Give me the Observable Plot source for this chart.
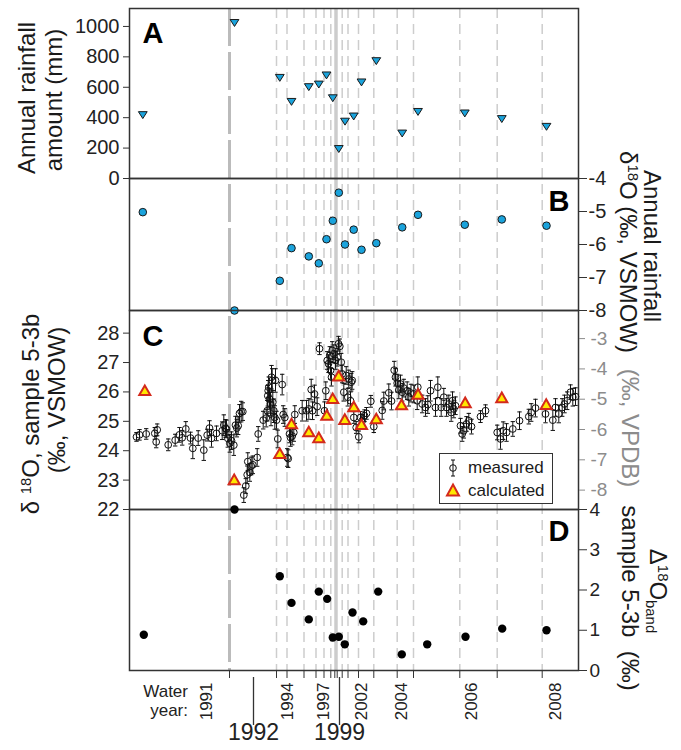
<!DOCTYPE html>
<html><head><meta charset="utf-8">
<script src="https://cdn.jsdelivr.net/npm/d3@7"></script>
<script src="https://cdn.jsdelivr.net/npm/@observablehq/plot@0.6"></script>
<style>
body{margin:0;background:#fff;font-family:"Liberation Sans",Arial,Helvetica,sans-serif;}
#chart{position:relative;width:681px;height:750px;overflow:hidden;background:#fff;}
.t{position:absolute;white-space:nowrap;color:#1a1a1a;line-height:1;}
.sup{font-size:0.62em;vertical-align:0.55em;line-height:0;}
.sub{font-size:0.62em;vertical-align:-0.3em;line-height:0;}
#legend{position:absolute;left:439px;top:453px;width:114px;height:51px;border:1.5px solid #333;background:#fff;box-sizing:border-box;font-size:17px;color:#1a1a1a;}
#legend .row{position:absolute;left:4px;display:flex;align-items:center;white-space:nowrap;}
</style></head><body><div id="chart"></div>
<script>
// ---------- data (x = distance along sample 5-3b, arbitrary units) ----------
const boundaries = [100, 147, 157.5, 174.5, 186.5, 194.5, 201.3, 205.3, 207.7, 212.7, 218.5, 229, 244.3, 267.7, 284, 330.3, 367.7, 412.7];
const dashedBoundaries = [147, 157.5, 174.5, 186.5, 194.5, 201.3, 212.7, 218.5, 229, 244.3, 267.7, 284, 330.3, 367.7, 412.7];
const boundary1992 = 100;
const boundary1999 = 206.5;
const yearLabels = ["1991", "1994", "1997", "2002", "2004", "2006", "2008"];
const yearLabelPos = [82.7, 163.7, 199.3, 237.7, 277.7, 347.7, 431];
const majorYears = ["1992", "1999"];
const majorYearPos = [124, 210];

// A: annual rainfall amount (mm)
const rainDist = [13.3, 105, 150.3, 162, 179.3, 189.3, 197, 203.3, 209.3, 215.5, 224.2, 232, 246.8, 272.7, 288.5, 335.3, 372.3, 417];
const rainAmount = [419, 1025, 664, 506, 603, 620, 680, 530, 196, 376, 410, 634, 774, 298, 440, 430, 393, 342];
// B: annual rainfall d18O (permil VSMOW)
const rainD18O = [-5.02, -8.0, -7.10, -6.11, -6.36, -6.57, -5.84, -5.28, -4.43, -6.0, -5.55, -6.16, -5.96, -5.48, -5.10, -5.40, -5.24, -5.43];
// C: calculated calcite d18O (permil VSMOW)
const calcDist = [15.3, 104.7, 150.3, 162, 179.3, 189.3, 197.3, 203.2, 209.2, 215.3, 224.3, 232, 246.8, 272, 288.6, 335.7, 372.3, 416.7];
const calcD18O = [26.0, 22.97, 23.86, 24.87, 24.60, 24.40, 25.16, 25.73, 26.50, 25.02, 25.45, 24.85, 25.04, 25.52, 25.88, 25.59, 25.76, 25.53];
// C: measured d18O, sample 5-3b
const measDist = [
 7.0, 10.0, 16.7, 25.3, 26.7, 27.7, 38.7, 45.7, 50.0, 52.7,
 56.3, 61.0, 63.3, 68.7, 74.3, 77.7, 80.0, 82.0, 87.0, 92.7,
 94.3, 96.0, 97.0, 98.3, 100.3, 102.0, 104.3, 106.0, 107.3, 108.7,
 110.0, 111.7, 113.3, 114.3, 116.3, 117.7, 118.3, 120.3, 121.7, 123.3,
 127.7, 128.7, 133.7, 136.7, 137.7, 138.3, 138.7, 139.3, 140.0, 141.0,
 141.5, 142.0, 142.7, 143.3, 144.3, 145.3, 146.0, 147.0, 148.3, 152.7,
 153.7, 155.3, 157.7, 158.7, 160.0, 161.0, 162.7, 164.3, 165.3, 172.7,
 177.0, 179.3, 181.7, 183.0, 185.0, 187.7, 190.0, 195.0, 196.3, 197.7,
 199.0, 200.3, 201.0, 202.0, 202.7, 204.3, 206.0, 207.7, 209.0, 210.3,
 211.7, 212.7, 214.3, 216.7, 218.3, 219.3, 221.0, 221.7, 222.7, 224.3,
 226.7, 229.3, 231.0, 232.7, 235.0, 237.0, 241.3, 244.3, 252.7, 254.3,
 259.3, 262.0, 264.7, 266.0, 267.7, 269.3, 271.0, 272.7, 274.3, 277.7,
 279.3, 281.5, 284.3, 287.7, 288.3, 292.7, 296.0, 298.3, 301.0, 306.0,
 308.3, 311.7, 314.3, 317.0, 319.3, 321.7, 323.0, 324.3, 326.0, 331.0,
 332.7, 334.3, 337.0, 339.3, 342.0, 351.0, 356.0, 367.7, 371.0, 373.7,
 377.0, 383.3, 390.0, 399.3, 401.7, 406.0, 416.0, 423.3, 426.0, 429.3,
 432.7, 435.0, 437.7, 441.0, 443.3, 446.0];
const measD18O = [
 24.47, 24.54, 24.57, 24.59, 24.30, 24.71, 24.20, 24.36, 24.54, 24.44,
 24.74, 24.43, 24.08, 24.43, 24.02, 24.53, 24.77, 24.42, 24.59, 24.68,
 24.87, 24.76, 24.74, 24.42, 24.25, 24.34, 24.19, 24.87, 24.77, 24.85,
 25.27, 25.33, 25.33, 22.49, 22.80, 23.18, 23.63, 23.26, 23.48, 23.52,
 23.77, 24.57, 25.04, 25.11, 25.36, 25.87, 26.04, 26.16, 25.76, 25.59,
 25.25, 26.50, 26.39, 25.65, 25.36, 25.13, 26.39, 25.04, 24.40, 26.25,
 25.23, 25.13, 23.77, 23.73, 24.57, 24.45, 24.50, 24.62, 25.23, 25.36,
 25.36, 25.42, 26.08, 25.36, 25.93, 25.50, 27.47, 25.36, 26.04, 27.07,
 26.96, 27.24, 26.73, 26.50, 27.41, 27.30, 27.07, 27.18, 27.64, 27.55,
 27.01, 26.61, 25.99, 26.56, 25.82, 26.44, 25.70, 26.33, 26.39, 25.13,
 24.79, 24.47, 25.13, 25.02, 25.19, 25.27, 25.68, 24.82, 25.37, 25.69,
 25.97, 25.69, 26.74, 26.50, 26.30, 26.07, 26.27, 25.99, 26.13, 26.04,
 25.82, 25.96, 25.93, 25.70, 26.16, 25.59, 25.47, 25.57, 26.04, 25.47,
 26.16, 25.47, 25.82, 25.47, 25.59, 25.30, 25.70, 25.42, 25.53, 24.85,
 24.57, 24.68, 24.91, 25.02, 24.82, 25.16, 25.36, 24.62, 24.40, 24.68,
 24.62, 24.74, 25.02, 25.16, 25.30, 25.45, 25.25, 25.04, 25.47, 25.25,
 25.47, 25.59, 25.70, 25.99, 25.82, 25.84];
const measErr = [
 0.15, 0.18, 0.18, 0.2, 0.2, 0.2, 0.2, 0.2, 0.25, 0.25,
 0.25, 0.2, 0.35, 0.25, 0.35, 0.2, 0.25, 0.3, 0.25, 0.3,
 0.35, 0.3, 0.3, 0.3, 0.3, 0.3, 0.35, 0.3, 0.3, 0.3,
 0.3, 0.35, 0.3, 0.25, 0.25, 0.3, 0.3, 0.3, 0.3, 0.3,
 0.3, 0.25, 0.3, 0.3, 0.35, 0.35, 0.35, 0.35, 0.35, 0.4,
 0.4, 0.4, 0.4, 0.4, 0.4, 0.4, 0.4, 0.3, 0.3, 0.35,
 0.3, 0.3, 0.3, 0.3, 0.3, 0.3, 0.3, 0.3, 0.3, 0.35,
 0.35, 0.35, 0.35, 0.3, 0.3, 0.3, 0.2, 0.3, 0.3, 0.3,
 0.3, 0.3, 0.3, 0.3, 0.3, 0.3, 0.3, 0.3, 0.25, 0.25,
 0.3, 0.3, 0.3, 0.3, 0.3, 0.3, 0.3, 0.3, 0.3, 0.2,
 0.2, 0.2, 0.2, 0.2, 0.2, 0.2, 0.2, 0.2, 0.3, 0.3,
 0.3, 0.3, 0.3, 0.3, 0.3, 0.3, 0.3, 0.3, 0.3, 0.3,
 0.3, 0.3, 0.3, 0.3, 0.35, 0.3, 0.3, 0.3, 0.35, 0.3,
 0.35, 0.3, 0.3, 0.3, 0.3, 0.3, 0.3, 0.3, 0.3, 0.25,
 0.25, 0.25, 0.25, 0.25, 0.25, 0.2, 0.2, 0.25, 0.35, 0.3,
 0.3, 0.25, 0.3, 0.25, 0.3, 0.3, 0.3, 0.35, 0.3, 0.3,
 0.3, 0.3, 0.3, 0.25, 0.3, 0.3];
// D: Delta18O band
const bandDist = [14.3, 105, 150.3, 162, 179.3, 189.3, 197.7, 203.3, 209.3, 215.3, 223, 233.7, 248.7, 272.3, 297.7, 336, 372.7, 417];
const bandDelta = [0.89, 4.0, 2.34, 1.68, 1.27, 1.96, 1.78, 0.82, 0.84, 0.65, 1.44, 1.22, 1.96, 0.40, 0.65, 0.84, 1.04, 1.00];
// axis ticks
const rainTicks = [0, 200, 400, 600, 800, 1000];
const rainIsoTicks = [-4, -5, -6, -7, -8];
const vsmowTicks = [22, 23, 24, 25, 26, 27, 28];
const vpdbTicks = [-3, -4, -5, -6, -7, -8];
const bandTicks = [0, 1, 2, 3, 4];

// ---------- helpers ----------
const FF = '"Liberation Sans", Arial, Helvetica, sans-serif';
const W = 681, ML = 129, MR = 103, XD = [0, 449];
const chart = document.getElementById("chart");
const plain = d => String(d);
const toVSMOW = v => (v + 29.98) / 0.97002;
const toVPDB = v => 0.97002 * v - 29.98;
const rain = rainDist.map((x, i) => ({x, v: rainAmount[i]}));
const rainIso = rainDist.map((x, i) => ({x, v: rainD18O[i]}));
const calc = calcDist.map((x, i) => ({x, v: calcD18O[i]}));
const meas = measDist.map((x, i) => ({x, v: measD18O[i], e: measErr[i]}));
const band = bandDist.map((x, i) => ({x, v: bandDelta[i]}));

const downTriangle = {draw(ctx, size) { const r = Math.sqrt(size / Math.PI);
  ctx.moveTo(-1.1 * r, -0.78 * r); ctx.lineTo(1.1 * r, -0.78 * r); ctx.lineTo(0, 0.95 * r); ctx.closePath(); }};
const capSymbol = {draw(ctx, size) { const r = Math.sqrt(size / Math.PI);
  ctx.moveTo(-r, 0); ctx.lineTo(r, 0); }};

const baseStyle = {background: "none", overflow: "visible", fontFamily: FF, fontSize: "20px", color: "#222"};
function place(svg, top) { svg.style.position = "absolute"; svg.style.left = "0px"; svg.style.top = top + "px"; chart.append(svg); }
const frame = Plot.frame({stroke: "#333", strokeWidth: 1.5});
function letter(t, anchor, dx, dy) {
  return Plot.text([t], {text: d => d, frameAnchor: anchor, dx, dy, fontSize: 29, fontWeight: "bold",
    textAnchor: anchor.endsWith("left") ? "start" : "end", lineAnchor: "top", fill: "#000"});
}

// ---------- base: year boundaries and x axis ----------
place(Plot.plot({
  width: W, height: 750, marginTop: 8, marginBottom: 80, marginLeft: ML, marginRight: MR,
  x: {domain: XD}, style: baseStyle,
  marks: [
    Plot.ruleX(dashedBoundaries, {stroke: "#cdcdcd", strokeWidth: 1.5, strokeDasharray: "10,6"}),
    Plot.ruleX([boundary1992], {stroke: "#bbbbbb", strokeWidth: 3, strokeDasharray: "38,6"}),
    Plot.ruleX([boundary1999], {stroke: "#cccccc", strokeWidth: 3.5}),
    Plot.axisX({ticks: boundaries, tickSize: 8, tickFormat: () => "", stroke: "#333", label: null}),
    Plot.text(yearLabels, {x: (d, i) => yearLabelPos[i], text: d => d, frameAnchor: "bottom", rotate: -90,
      textAnchor: "end", dy: 12, fontSize: 17, fill: "#222"}),
    Plot.text(majorYears, {x: (d, i) => majorYearPos[i], text: d => d, frameAnchor: "bottom", dy: 69,
      fontSize: 23, fill: "#222"})
  ]
}), 0);

// long marker lines for 1992 and 1999
place(Plot.plot({
  width: W, height: 80, marginTop: 7, marginBottom: 25, marginLeft: ML, marginRight: MR,
  x: {domain: XD, axis: null}, style: baseStyle,
  marks: [Plot.ruleX(majorYearPos, {stroke: "#333", strokeWidth: 1.3})]
}), 670);

// ---------- A ----------
place(Plot.plot({
  width: W, height: 178, marginTop: 8, marginBottom: 0, marginLeft: ML, marginRight: MR,
  x: {domain: XD, axis: null}, y: {domain: [0, 1118]}, style: baseStyle,
  marks: [
    frame,
    Plot.axisY({ticks: rainTicks, tickSize: 6, tickPadding: 4, tickFormat: plain, label: null, fontSize: 20, stroke: "#333"}),
    Plot.dot(rain, {x: "x", y: "v", symbol: downTriangle, r: 4, fill: "#1aa3dc", stroke: "#1a1a1a", strokeWidth: 1}),
    letter("A", "top-left", 13, 14)
  ]
}), 0);

// ---------- B ----------
place(Plot.plot({
  width: W, height: 132, marginTop: 0, marginBottom: 0, marginLeft: ML, marginRight: MR,
  x: {domain: XD, axis: null}, y: {domain: [-8, -4]}, style: baseStyle,
  marks: [
    frame,
    Plot.axisY({anchor: "right", ticks: rainIsoTicks, tickSize: 8, tickPadding: 2, tickFormat: plain, label: null, fontSize: 20, stroke: "#333"}),
    Plot.dot(rainIso, {x: "x", y: "v", r: 3.8, fill: "#1aa3dc", stroke: "#1a1a1a", strokeWidth: 1}),
    letter("B", "top-right", -9, 12)
  ]
}), 178);

// ---------- C ----------
place(Plot.plot({
  width: W, height: 199, marginTop: 0, marginBottom: 0, marginLeft: ML, marginRight: MR,
  x: {domain: XD, axis: null}, y: {domain: [22, 28.77]}, style: baseStyle,
  marks: [
    frame,
    Plot.axisY({ticks: vsmowTicks, tickSize: 6, tickPadding: 4, tickFormat: plain, label: null, fontSize: 20, stroke: "#333"}),
    Plot.axisY({anchor: "right", ticks: vpdbTicks.map(toVSMOW), tickFormat: d => String(Math.round(toVPDB(d))),
      tickSize: 6, tickPadding: 6, label: null, fontSize: 19, color: "#8c8c8c"}),
    Plot.ruleX(meas, {x: "x", y1: d => d.v - d.e, y2: d => d.v + d.e, stroke: "#111", strokeWidth: 1}),
    Plot.dot(meas, {x: "x", y: d => d.v - d.e, symbol: capSymbol, r: 2.2, stroke: "#111", strokeWidth: 1}),
    Plot.dot(meas, {x: "x", y: d => d.v + d.e, symbol: capSymbol, r: 2.2, stroke: "#111", strokeWidth: 1}),
    Plot.dot(meas, {x: "x", y: "v", r: 3.4, fill: "none", stroke: "#111", strokeWidth: 1}),
    Plot.dot(calc, {x: "x", y: "v", symbol: "triangle", r: 4.1, fill: "#ffe800", stroke: "#d42a1c", strokeWidth: 2}),
    letter("C", "top-left", 13, 15)
  ]
}), 310);

// ---------- D ----------
place(Plot.plot({
  width: W, height: 161, marginTop: 0, marginBottom: 0, marginLeft: ML, marginRight: MR,
  x: {domain: XD, axis: null}, y: {domain: [0, 4]}, style: baseStyle,
  marks: [
    frame,
    Plot.axisY({anchor: "right", ticks: bandTicks, tickSize: 8, tickPadding: 3, tickFormat: plain, label: null, fontSize: 19, stroke: "#333"}),
    Plot.dot(band, {x: "x", y: "v", r: 4.2, fill: "#000"}),
    letter("D", "top-right", -9, 11)
  ]
}), 509);

// ---------- titles ----------
function label(html, cx, cy, rot, size = 24, color = "#1a1a1a") {
  const d = document.createElement("div");
  d.className = "t"; d.innerHTML = html;
  d.style.left = cx + "px"; d.style.top = cy + "px"; d.style.fontSize = size + "px"; d.style.color = color;
  d.style.transform = `translate(-50%,-50%) rotate(${rot}deg)`;
  chart.append(d);
}
label("Annual rainfall", 27, 98, -90);
label("amount (mm)", 54, 100, -90);
label("Annual rainfall", 652, 246, 90);
label('δ<span class="sup">18</span>O (‰, VSMOW)', 628, 252, 90);
label('δ <span class="sup">18</span>O, sample 5-3b', 31, 414, -90);
label("(‰, VSMOW)", 57, 400, -90);
label("(‰, VPDB)", 630, 428, 90, 24, "#8c8c8c");
label('Δ<span class="sup">18</span>O<span class="sub">band</span>', 658, 591, 90);
label("sample 5-3b&nbsp; (‰)", 630, 598, 90);

const wy = document.createElement("div");
wy.className = "t";
wy.style.cssText += "right:493px;top:682px;font-size:17px;line-height:19px;text-align:right;color:#222;";
wy.innerHTML = "Water<br>year:";
chart.append(wy);

// ---------- legend ----------
const lg = document.createElement("div");
lg.id = "legend";
lg.innerHTML =
  '<div class="row" style="top:4px"><svg width="18" height="20" style="margin-right:6px"><line x1="9" x2="9" y1="2" y2="18" stroke="#111"/><line x1="7" x2="11" y1="2" y2="2" stroke="#111"/><line x1="7" x2="11" y1="18" y2="18" stroke="#111"/><circle cx="9" cy="10" r="3.3" fill="none" stroke="#111"/></svg>measured</div>' +
  '<div class="row" style="top:27px"><svg width="18" height="18" style="margin-right:6px"><path d="M9,2.5 L15,13.5 L3,13.5 Z" fill="#ffe800" stroke="#d42a1c" stroke-width="2"/></svg>calculated</div>';
chart.append(lg);
</script></body></html>
